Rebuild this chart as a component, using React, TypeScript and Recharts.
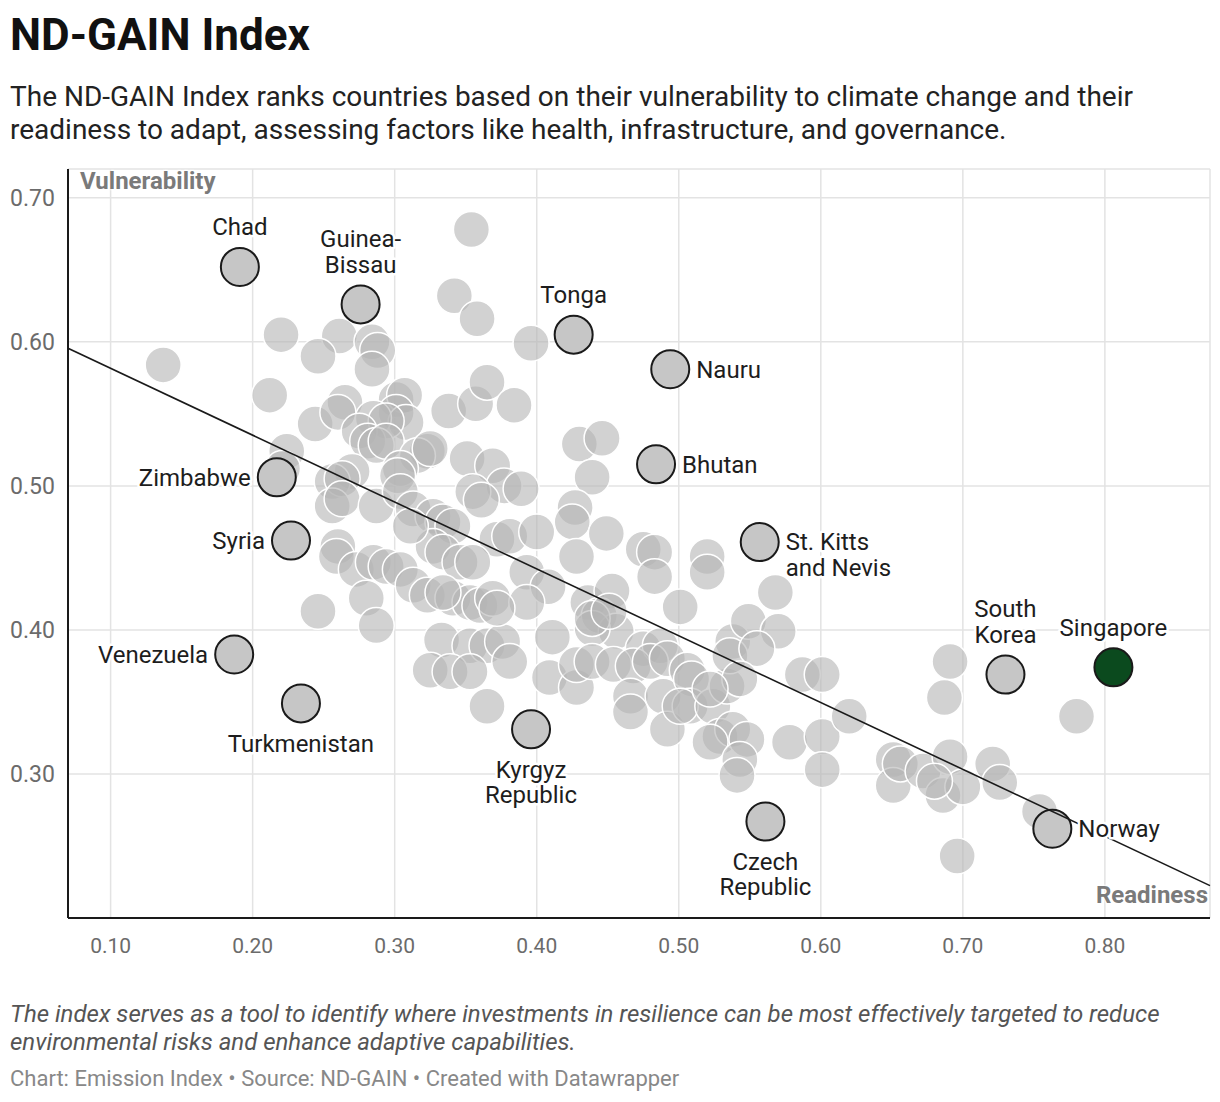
import {
  CartesianGrid,
  ReferenceLine,
  Scatter,
  ScatterChart,
  XAxis,
  YAxis,
} from "recharts";

// other countries (grey bubbles)
const otherReadiness = [
  0.354, 0.342, 0.358, 0.396, 0.137, 0.22, 0.261, 0.246, 0.284, 0.288,
  0.284, 0.212, 0.265, 0.301, 0.307, 0.301, 0.308, 0.338, 0.357, 0.365,
  0.384, 0.244, 0.26, 0.285, 0.294, 0.275, 0.281, 0.287, 0.294, 0.323,
  0.316, 0.304, 0.302, 0.27, 0.256, 0.263, 0.224, 0.221, 0.325, 0.351,
  0.369, 0.377, 0.389, 0.355, 0.361, 0.256, 0.263, 0.287, 0.304, 0.313,
  0.327, 0.334, 0.341, 0.372, 0.26, 0.259, 0.273, 0.285, 0.294, 0.304,
  0.313, 0.323, 0.327, 0.334, 0.346, 0.355, 0.341, 0.353, 0.36, 0.369,
  0.28, 0.287, 0.246, 0.333, 0.353, 0.365, 0.376, 0.311, 0.381, 0.4,
  0.393, 0.408, 0.43, 0.446, 0.439, 0.427, 0.425, 0.449, 0.428, 0.436,
  0.453, 0.444, 0.456, 0.439, 0.439, 0.451, 0.393, 0.334, 0.372, 0.411,
  0.475, 0.487, 0.325, 0.339, 0.353, 0.381, 0.365, 0.409, 0.428, 0.428,
  0.439, 0.454, 0.468, 0.48, 0.492, 0.466, 0.466, 0.489, 0.492, 0.506,
  0.509, 0.508, 0.501, 0.524, 0.534, 0.529, 0.538, 0.538, 0.536, 0.475,
  0.483, 0.483, 0.501, 0.52, 0.52, 0.568, 0.549, 0.57, 0.555, 0.543,
  0.522, 0.522, 0.548, 0.543, 0.541, 0.578, 0.587, 0.601, 0.601, 0.601,
  0.62, 0.651, 0.651, 0.656, 0.672, 0.691, 0.686, 0.7, 0.721, 0.726,
  0.754, 0.696, 0.691, 0.687, 0.78, 0.68,
];
const otherVulnerability = [
  0.678, 0.632, 0.616, 0.599, 0.584, 0.605, 0.604, 0.59, 0.6, 0.594,
  0.581, 0.563, 0.558, 0.56, 0.563, 0.551, 0.544, 0.552, 0.557, 0.572,
  0.556, 0.543, 0.551, 0.547, 0.545, 0.538, 0.531, 0.528, 0.531, 0.524,
  0.521, 0.512, 0.507, 0.51, 0.503, 0.505, 0.524, 0.512, 0.526, 0.519,
  0.514, 0.5, 0.498, 0.496, 0.49, 0.486, 0.491, 0.486, 0.496, 0.484,
  0.479, 0.475, 0.472, 0.463, 0.458, 0.451, 0.442, 0.447, 0.444, 0.442,
  0.431, 0.424, 0.458, 0.454, 0.447, 0.447, 0.422, 0.419, 0.417, 0.422,
  0.422, 0.403, 0.413, 0.393, 0.389, 0.389, 0.392, 0.472, 0.465, 0.468,
  0.44, 0.43, 0.529, 0.533, 0.506, 0.485, 0.475, 0.467, 0.451, 0.419,
  0.427, 0.41, 0.399, 0.401, 0.408, 0.413, 0.419, 0.426, 0.415, 0.395,
  0.387, 0.389, 0.372, 0.371, 0.371, 0.378, 0.347, 0.367, 0.36, 0.376,
  0.378, 0.376, 0.375, 0.378, 0.38, 0.354, 0.343, 0.354, 0.331, 0.372,
  0.366, 0.347, 0.347, 0.347, 0.361, 0.326, 0.331, 0.392, 0.382, 0.456,
  0.454, 0.437, 0.416, 0.451, 0.44, 0.426, 0.406, 0.399, 0.387, 0.366,
  0.359, 0.322, 0.324, 0.31, 0.299, 0.322, 0.369, 0.369, 0.326, 0.303,
  0.34, 0.31, 0.292, 0.307, 0.302, 0.312, 0.285, 0.291, 0.307, 0.294,
  0.274, 0.243, 0.378, 0.353, 0.34, 0.295,
];

// labelled countries
const highlightCountries = [
  "Chad",
  "Guinea-Bissau",
  "Tonga",
  "Nauru",
  "Bhutan",
  "Zimbabwe",
  "Syria",
  "St. Kitts and Nevis",
  "Venezuela",
  "Turkmenistan",
  "Kyrgyz Republic",
  "Czech Republic",
  "South Korea",
  "Singapore",
  "Norway",
];
const highlightReadiness = [
  0.191, 0.276, 0.426, 0.494, 0.484, 0.217, 0.227, 0.557, 0.187, 0.234,
  0.396, 0.561, 0.73, 0.806, 0.763,
];
const highlightVulnerability = [
  0.652, 0.626, 0.605, 0.581, 0.515, 0.506, 0.462, 0.461, 0.383, 0.349,
  0.331, 0.267, 0.369, 0.374, 0.262,
];

const trendIntercept = 0.628;
const trendSlope = -0.464;

const xTicks = [0.1, 0.2, 0.3, 0.4, 0.5, 0.6, 0.7, 0.8];
const yTicks = [0.3, 0.4, 0.5, 0.6, 0.7];
const xDomain = [0.07, 0.874];
const yDomain = [0.2, 0.72];

const others = otherReadiness.map((x, i) => ({ x, y: otherVulnerability[i] }));
const highlights = highlightCountries.map((name, i) => ({
  name,
  x: highlightReadiness[i],
  y: highlightVulnerability[i],
}));

const labelSide: Record<string, "top" | "bottom" | "left" | "right"> = {
  Chad: "top",
  "Guinea-Bissau": "top",
  Tonga: "top",
  Nauru: "right",
  Bhutan: "right",
  Zimbabwe: "left",
  Syria: "left",
  "St. Kitts and Nevis": "right",
  Venezuela: "left",
  Turkmenistan: "bottom",
  "Kyrgyz Republic": "bottom",
  "Czech Republic": "bottom",
  "South Korea": "top",
  Singapore: "top",
  Norway: "right",
};
const labelLines: Record<string, string[]> = {
  "Guinea-Bissau": ["Guinea-", "Bissau"],
  "St. Kitts and Nevis": ["St. Kitts", "and Nevis"],
  "Kyrgyz Republic": ["Kyrgyz", "Republic"],
  "Czech Republic": ["Czech", "Republic"],
  "South Korea": ["South", "Korea"],
};

const font = "Roboto, 'Noto Sans', sans-serif";

function GreyDot(props: any) {
  const { cx, cy } = props;
  return (
    <circle
      cx={cx}
      cy={cy}
      r={18}
      fill="#b4b4b4"
      fillOpacity={0.6}
      stroke="#fff"
      strokeWidth={1.5}
    />
  );
}

function HighlightDot(props: any) {
  const { cx, cy, payload } = props;
  return (
    <circle
      cx={cx}
      cy={cy}
      r={19}
      fill={payload.name === "Singapore" ? "#0b4a1e" : "#c6c6c6"}
      stroke="#1a1a1a"
      strokeWidth={2}
    />
  );
}

function CountryLabel(props: any) {
  const { cx, cy, payload } = props;
  const lines = labelLines[payload.name] ?? [payload.name];
  const side = labelSide[payload.name];
  const lh = 25.5;
  let x = cx;
  let anchor: "middle" | "start" | "end" = "middle";
  let y0 = cy;
  if (side === "top") y0 = cy - 40 - (lines.length - 1) * lh;
  else if (side === "bottom") y0 = cy + 40;
  else if (side === "right") {
    x = cx + 26;
    anchor = "start";
  } else {
    x = cx - 26;
    anchor = "end";
  }
  return (
    <text
      textAnchor={anchor}
      fontFamily={font}
      fontSize={24}
      fill="#1d1d1d"
      stroke="#fff"
      strokeWidth={5}
      strokeLinejoin="round"
      paintOrder="stroke"
    >
      {lines.map((l, i) => (
        <tspan key={i} x={x} y={y0 + i * lh} dy="0.35em">
          {l}
        </tspan>
      ))}
    </text>
  );
}

const YTick = (props: any) => (
  <text
    x={10}
    y={props.y}
    dy="0.35em"
    textAnchor="start"
    fontFamily={font}
    fontSize={23}
    fill="#6b6b6b"
  >
    {props.payload.value.toFixed(2)}
  </text>
);

const XTick = (props: any) => (
  <text
    x={props.x}
    y={props.y + 20}
    dy="0.35em"
    textAnchor="middle"
    fontFamily={font}
    fontSize={21}
    fill="#6b6b6b"
  >
    {props.payload.value.toFixed(2)}
  </text>
);

export default function App() {
  return (
    <div
      style={{
        position: "absolute",
        left: 0,
        top: 0,
        width: 1220,
        height: 1102,
        background: "#fff",
        fontFamily: font,
        color: "#1d1d1d",
      }}
    >
      <div
        style={{
          position: "absolute",
          left: 10,
          top: 10,
          fontSize: 44,
          lineHeight: "50px",
          fontWeight: 700,
          color: "#111",
        }}
      >
        ND-GAIN Index
      </div>
      <div
        style={{
          position: "absolute",
          left: 10,
          top: 80,
          width: 1195,
          fontSize: 28,
          lineHeight: "33px",
          color: "#222",
        }}
      >
        The ND-GAIN Index ranks countries based on their vulnerability to climate
        change and their readiness to adapt, assessing factors like health,
        infrastructure, and governance.
      </div>

      <div style={{ position: "absolute", left: 0, top: 160 }}>
        <ScatterChart
          width={1220}
          height={800}
          margin={{ top: 9, right: 10, bottom: 0, left: 0 }}
        >
          <CartesianGrid stroke="#e3e3e3" strokeWidth={1.5} />
          <XAxis
            type="number"
            dataKey="x"
            domain={xDomain}
            ticks={xTicks}
            allowDataOverflow
            height={42}
            tickLine={false}
            axisLine={{ stroke: "#1a1a1a", strokeWidth: 2 }}
            tick={<XTick />}
          />
          <YAxis
            type="number"
            dataKey="y"
            domain={yDomain}
            ticks={yTicks}
            allowDataOverflow
            width={68}
            tickLine={false}
            axisLine={{ stroke: "#1a1a1a", strokeWidth: 2 }}
            tick={<YTick />}
          />
          <Scatter
            data={others}
            shape={<GreyDot />}
            isAnimationActive={false}
            zIndex={600}
          />
          <Scatter
            data={highlights}
            shape={<HighlightDot />}
            isAnimationActive={false}
            zIndex={610}
          />
          <ReferenceLine
            segment={[
              { x: xDomain[0], y: trendIntercept + trendSlope * xDomain[0] },
              { x: xDomain[1], y: trendIntercept + trendSlope * xDomain[1] },
            ]}
            stroke="#1a1a1a"
            strokeWidth={1.6}
            zIndex={650}
          />
          <Scatter
            data={highlights}
            shape={<CountryLabel />}
            isAnimationActive={false}
            zIndex={700}
          />
        </ScatterChart>
      </div>

      <div
        style={{
          position: "absolute",
          left: 80,
          top: 167,
          fontSize: 24,
          lineHeight: "28px",
          fontWeight: 700,
          color: "#7a7a7a",
          textShadow: "0 0 3px #fff, 0 0 3px #fff, 0 0 3px #fff",
        }}
      >
        Vulnerability
      </div>
      <div
        style={{
          position: "absolute",
          right: 12,
          top: 881,
          fontSize: 24,
          lineHeight: "28px",
          fontWeight: 700,
          color: "#7a7a7a",
          textShadow: "0 0 3px #fff, 0 0 3px #fff, 0 0 3px #fff",
        }}
      >
        Readiness
      </div>

      <div
        style={{
          position: "absolute",
          left: 10,
          top: 1000,
          width: 1200,
          fontSize: 24,
          lineHeight: "28px",
          fontStyle: "italic",
          color: "#555",
        }}
      >
        The index serves as a tool to identify where investments in resilience
        can be most effectively targeted to reduce environmental risks and
        enhance adaptive capabilities.
      </div>
      <div
        style={{
          position: "absolute",
          left: 10,
          top: 1066,
          fontSize: 22,
          lineHeight: "26px",
          color: "#888",
        }}
      >
        Chart: Emission Index • Source: ND-GAIN • Created with Datawrapper
      </div>
    </div>
  );
}
